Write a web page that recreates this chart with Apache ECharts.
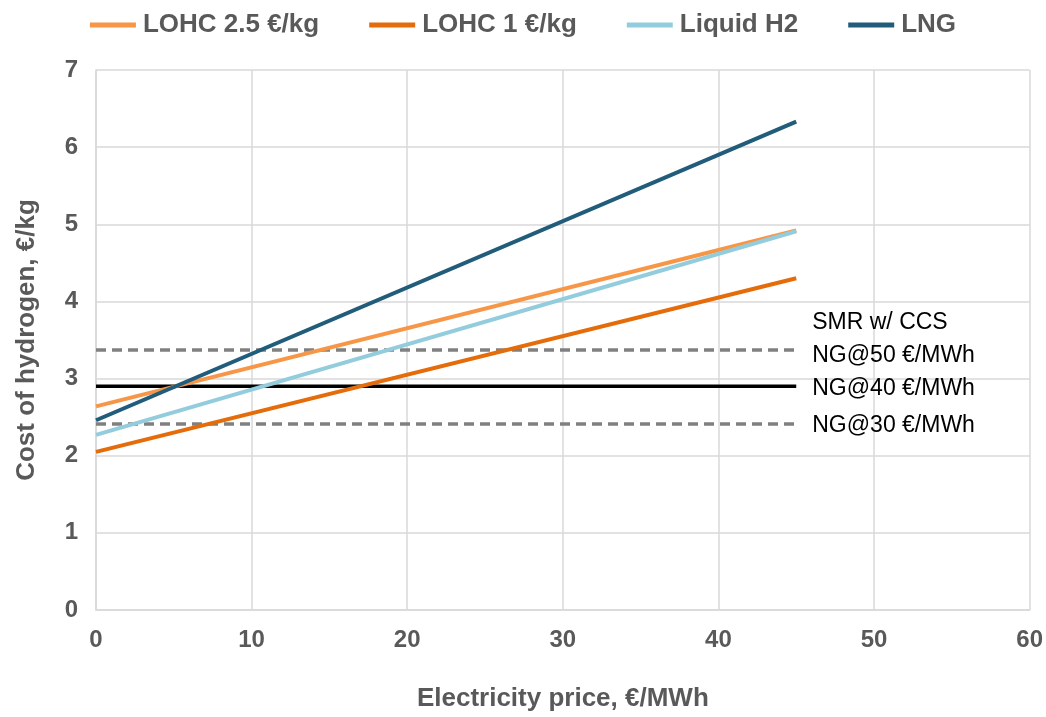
<!DOCTYPE html>
<html>
<head>
<meta charset="utf-8">
<script src="https://cdn.jsdelivr.net/npm/echarts@6/dist/echarts.min.js"></script>
<style>
  html, body { margin: 0; padding: 0; background: #fff; }
  #chart { width: 1046px; height: 717px; }
</style>
</head>
<body>
<div id="chart"></div>
<script>
//---------------------------Data---------------------------
// electricity price (x) at the two ends of every line
let xPrice = [0, 45];

// cost of hydrogen, €/kg
let lohc25 = [2.64, 4.92];
let lohc1 = [2.05, 4.30];
let liquidH2 = [2.27, 4.91];
let lng = [2.46, 6.33];

// SMR w/ CCS reference levels
let ng50 = [3.37, 3.37];
let ng40 = [2.90, 2.90];
let ng30 = [2.41, 2.41];

let legendNames = ['LOHC 2.5 €/kg', 'LOHC 1 €/kg', 'Liquid H2', 'LNG'];

//---------------------------Chart---------------------------
let chart = echarts.init(document.getElementById('chart'));

let boldFont = '"Liberation Sans", sans-serif';
let plainFont = '"Liberation Sans", sans-serif';
let grey = '#595959';

function pairs(ys) {
    let out = [];
    for (let i = 0; i < xPrice.length; i++) {
        out.push([xPrice[i], ys[i]]);
    }
    return out;
}

function lineSeries(name, ys, color) {
    return {
        name: name,
        type: 'line',
        data: pairs(ys),
        symbol: 'none',
        lineStyle: { color: color, width: 4 },
        itemStyle: { color: color },
        animation: false
    };
}

function refSeries(name, ys, color, dashed, label, dy) {
    return {
        name: name,
        type: 'line',
        data: pairs(ys),
        symbol: 'none',
        lineStyle: { color: color, width: 3.5, type: dashed ? [10, 6] : 'solid' },
        itemStyle: { color: color },
        z: 1,
        endLabel: {
            show: true,
            distance: 16,
            offset: [0, dy],
            formatter: label,
            color: '#000',
            fontFamily: plainFont,
            fontSize: 23,
            lineHeight: 33,
            rich: {
                t: { color: '#000', fontFamily: plainFont, fontSize: 23, lineHeight: 33 }
            }
        },
        animation: false
    };
}

let option = {
    backgroundColor: '#fff',
    grid: { left: 96, right: 14, top: 70, bottom: 103 },
    legend: {
        data: legendNames,
        top: 7,
        left: 'center',
        itemGap: 50,
        itemWidth: 46,
        itemHeight: 5,
        icon: 'rect',
        textStyle: { color: grey, fontFamily: boldFont, fontWeight: 'bold', fontSize: 26, padding: [0, 0, 0, 2] }
    },
    xAxis: {
        type: 'value',
        min: 0,
        max: 60,
        interval: 10,
        name: 'Electricity price, €/MWh',
        nameLocation: 'middle',
        nameGap: 76,
        nameTextStyle: { color: grey, fontFamily: boldFont, fontWeight: 'bold', fontSize: 26 },
        axisLine: { show: true, lineStyle: { color: '#d9d9d9', width: 1.5 } },
        axisTick: { show: false },
        axisLabel: { color: grey, fontFamily: boldFont, fontWeight: 'bold', fontSize: 24, margin: 18 },
        splitLine: { show: true, lineStyle: { color: '#d9d9d9', width: 1.5 } }
    },
    yAxis: {
        type: 'value',
        min: 0,
        max: 7,
        interval: 1,
        name: 'Cost of hydrogen, €/kg',
        nameLocation: 'middle',
        nameGap: 56,
        nameTextStyle: { color: grey, fontFamily: boldFont, fontWeight: 'bold', fontSize: 26 },
        axisLine: { show: true, lineStyle: { color: '#d9d9d9', width: 1.5 } },
        axisTick: { show: false },
        axisLabel: { color: grey, fontFamily: boldFont, fontWeight: 'bold', fontSize: 24, margin: 18 },
        splitLine: { show: true, lineStyle: { color: '#d9d9d9', width: 1.5 } }
    },
    series: [
        // two-line label: lower line sits on the NG@50 line
        refSeries('NG@50', ng50, '#808080', true, '{t|SMR w/ CCS}\n{t|NG@50 €/MWh}', -11),
        refSeries('NG@40', ng40, '#000000', false, 'NG@40 €/MWh', 2),
        refSeries('NG@30', ng30, '#808080', true, 'NG@30 €/MWh', 2),
        lineSeries('LOHC 2.5 €/kg', lohc25, '#F79646'),
        lineSeries('LOHC 1 €/kg', lohc1, '#E46C0A'),
        lineSeries('Liquid H2', liquidH2, '#93CDDD'),
        lineSeries('LNG', lng, '#215D7B')
    ]
};

chart.setOption(option);
</script>
</body>
</html>
